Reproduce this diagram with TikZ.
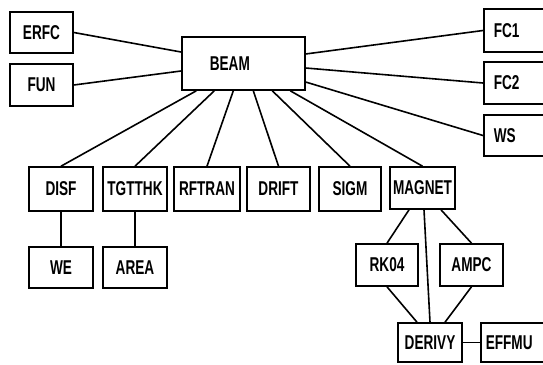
\documentclass[tikz,border=0pt]{standalone}
\usepackage{fontspec}
\setmainfont{Liberation Sans}[FakeStretch=0.68]
\begin{document}
\begin{tikzpicture}[x=1pt,y=-1pt,
  lbl/.style={font=\bfseries\fontsize{20}{21}\selectfont},
  box/.style={draw, line width=1.6pt, inner sep=0pt, lbl, minimum width=#1},
  box/.default=64pt,
  openbox/.style={draw, line width=1.6pt, inner sep=0pt, inner xsep=10pt, text width=55pt, align=left, lbl, anchor=west},
  link/.style={line width=1.6pt}]
\useasboundingbox (0,0) rectangle (543,364);
% top
\node[box=63pt, minimum height=41pt] (erfc) at (41.5,32.5) {ERFC};
\node[box=63pt, minimum height=42pt] (fun) at (41.5,85) {FUN};
\node[openbox, minimum height=53pt, inner xsep=28pt, text width=67pt] (beam) at (181,63.5) {BEAM};
\node[openbox, minimum height=43pt] (fc1) at (483,30.5) {FC1};
\node[openbox, minimum height=42pt] (fc2) at (483,83) {FC2};
\node[openbox, minimum height=41pt] (ws) at (483,135.5) {WS};
% row
\node[box=64pt, minimum height=44pt] (disf) at (61,189) {DISF};
\node[box=64pt, minimum height=44pt] (tgt) at (135,189) {TGTTHK};
\node[box=66pt, minimum height=44pt] (rft) at (207,189) {RFTRAN};
\node[box=63pt, minimum height=44pt] (drift) at (278.5,189) {DRIFT};
\node[box=62pt, minimum height=44pt] (sigm) at (350,189) {SIGM};
\node[box=65pt, minimum height=42pt] (magnet) at (422.5,188) {MAGNET};
% lower
\node[box=64pt, minimum height=41pt] (we) at (61,267.5) {WE};
\node[box=64pt, minimum height=41pt] (area) at (135,267.5) {AREA};
\node[box=62pt, minimum height=42pt] (rk) at (387,265) {RK04};
\node[box=63pt, minimum height=42pt] (ampc) at (471.5,265) {AMPC};
\node[box=64pt, minimum height=39pt] (deriv) at (430,342.5) {DERIVY};
\node[openbox, minimum height=39pt, inner xsep=5pt] (effmu) at (480,342.5) {EFFMU};
% connectors
\draw[link] (erfc.east) -- ([yshift=11.5pt]beam.west);
\draw[link] (fun.east) -- ([yshift=-7.5pt]beam.west);
\draw[link] ([yshift=9.5pt]beam.east) -- (fc1.west);
\draw[link] ([yshift=-4.5pt]beam.east) -- (fc2.west);
\draw[link] ([yshift=-18.5pt]beam.east) -- (ws.west);
\draw[link] ([xshift=-47pt]beam.south) -- (disf.north);
\draw[link] ([xshift=-29pt]beam.south) -- (tgt.north);
\draw[link] ([xshift=-10pt]beam.south) -- (rft.north);
\draw[link] ([xshift=10pt]beam.south) -- (drift.north);
\draw[link] ([xshift=29pt]beam.south) -- (sigm.north);
\draw[link] ([xshift=47pt]beam.south) -- (magnet.north);
\draw[link] (disf.south) -- (we.north);
\draw[link] (tgt.south) -- (area.north);
\draw[link] ([xshift=-13.5pt]magnet.south) -- (rk.north);
\draw[link] ([xshift=1.5pt]magnet.south) -- (deriv.north);
\draw[link] ([xshift=18.5pt]magnet.south) -- (ampc.north);
\draw[link] (rk.south) -- ([xshift=-13pt]deriv.north);
\draw[link] (ampc.south) -- ([xshift=15pt]deriv.north);
\draw[link] (deriv.east) -- (effmu.west);
\end{tikzpicture}
\end{document}
